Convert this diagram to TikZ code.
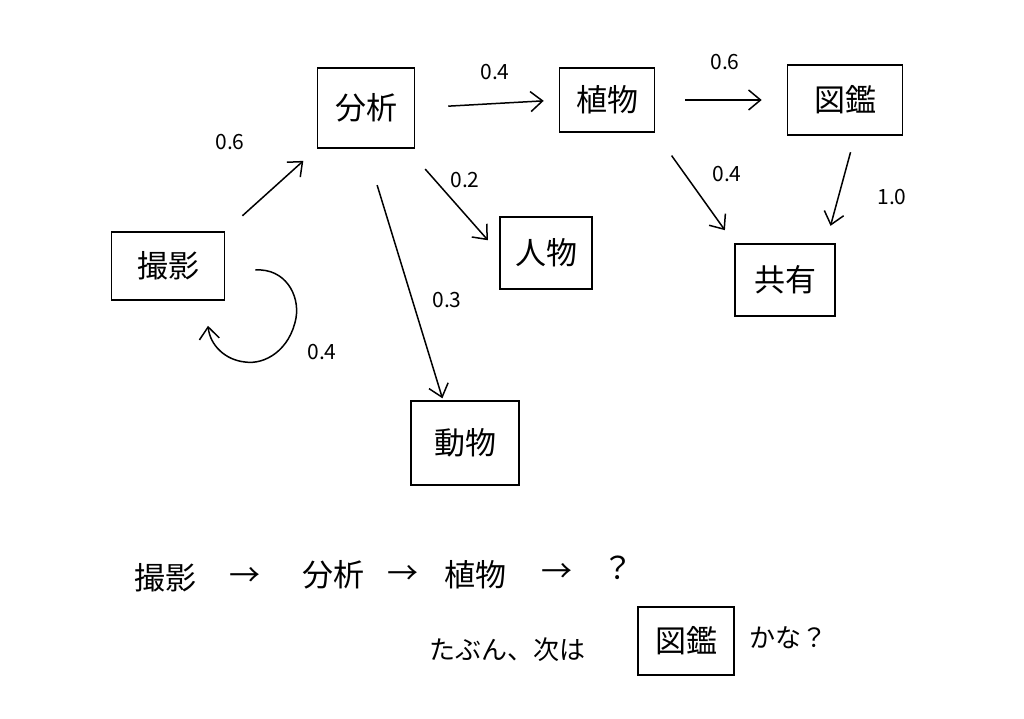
\documentclass[tikz,border=0pt]{standalone}
\usepackage{fontspec}
\setmainfont{Noto Sans CJK JP}
\usetikzlibrary{arrows.meta}
\tikzset{
  box/.style={draw, line width=1.6pt, inner sep=0pt, font=\fontsize{31}{34}\selectfont},
  arr/.style={line width=1.5pt, -{Straight Barb[length=12pt,width=20pt,line width=1.5pt]}},
  lbl/.style={font=\fontsize{21}{24}\selectfont},
  txt/.style={font=\fontsize{31}{34}\selectfont},
  small/.style={font=\fontsize{26}{30}\selectfont}
}
\begin{document}
\begin{tikzpicture}[x=1pt,y=-1pt]
\useasboundingbox[fill=white] (0,0) rectangle (1024,719);
% nodes
\node[box, minimum width=113pt, minimum height=68pt] (shoot) at (168,266) {撮影};
\node[box, minimum width=97pt, minimum height=80pt] (anal) at (366,108) {分析};
\node[box, minimum width=95pt, minimum height=64pt] (plant) at (607,100) {植物};
\node[box, minimum width=115pt, minimum height=70pt] (zukan) at (845,100) {図鑑};
\node[box, minimum width=92pt, minimum height=72pt] (person) at (546,253) {人物};
\node[box, minimum width=108pt, minimum height=84pt] (animal) at (465,443) {動物};
\node[box, minimum width=100pt, minimum height=72pt] (share) at (785,280) {共有};
% edges
\draw[arr, shorten <=23pt, shorten >=18pt] (shoot.north east) -- (anal.south west);
\draw[arr, shorten <=33pt, shorten >=15pt] (anal.east) -- (plant.west);
\draw[arr, shorten <=27pt, shorten >=17pt] ([xshift=-8pt]anal.south east) -- (person.west);
\draw[arr, shorten <=38pt, shorten >=2pt] (anal.south) -- ([xshift=-22pt]animal.north);
\draw[arr, shorten <=30pt, shorten >=25pt] (plant.east) -- (zukan.west);
\draw[arr, shorten <=28pt, shorten >=16pt] (plant.south east) -- (share.north west);
\draw[arr, shorten <=17pt, shorten >=18pt] ([xshift=10pt]zukan.south) -- ([xshift=-10pt]share.north east);
% self loop
\coordinate (ls) at ([shift={(30,4)}]shoot.east);
\coordinate (le) at ([shift={(40,25)}]shoot.south);
\draw[arr] (ls) .. controls (285,268) and (300,295) .. (296,318)
  .. controls (290,350) and (265,365) .. (245,362)
  .. controls (225,360) and (210,345) .. (le);
% labels
\node[lbl] (l1) at (230,142) {0.6};
\node[lbl] (l2) at (322,352) {0.4};
\node[lbl] (l3) at (495,72) {0.4};
\node[lbl] (l4) at (465,180) {0.2};
\node[lbl] (l5) at (447,300) {0.3};
\node[lbl] (l6) at (725,62) {0.6};
\node[lbl] (l7) at (727,174) {0.4};
\node[lbl] (l8) at (892,197) {1.0};
% bottom line 1
\node[txt] (b1) at (165,578) {撮影};
\node[txt] (b2) at (245,577) {→};
\node[txt] (b3) at (333,575) {分析};
\node[txt] (b4) at (403,575) {→};
\node[txt] (b5) at (475,575) {植物};
\node[txt] (b6) at (557,573) {→};
\node[txt] (b7) at (618,568) {？};
% bottom line 2
\node[small, anchor=west] (c1) at (426,650) {たぶん、次は};
\node[box, minimum width=96pt, minimum height=68pt] (c2) at (686,641) {図鑑};
\node[small, anchor=west] (c3) at (746,638) {かな？};
\end{tikzpicture}
\end{document}
